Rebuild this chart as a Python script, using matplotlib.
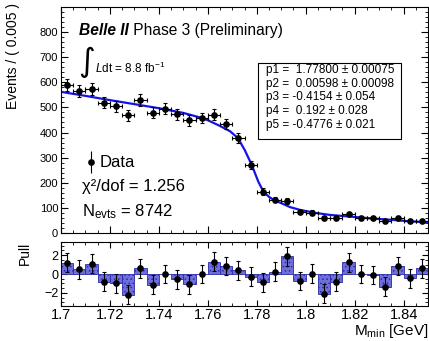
import numpy as np
import matplotlib
matplotlib.use("Agg")
from matplotlib import pyplot as plt
from matplotlib.ticker import MultipleLocator, FixedLocator
from matplotlib.patches import Rectangle

plt.rcParams['font.family'] = ['Liberation Sans', 'DejaVu Sans']
plt.rcParams['mathtext.fontset'] = 'custom'
plt.rcParams['mathtext.rm'] = 'Liberation Sans'
plt.rcParams['mathtext.it'] = 'Liberation Sans:italic'
plt.rcParams['hatch.linewidth'] = 0.6

# bin centres, 0.005 wide, 1.70 - 1.85
bin_width = 0.005
bin_centers = 1.7 + bin_width * (np.arange(30) + 0.5)

# events per bin
counts = [589, 567, 572, 519, 505, 469, 529, 479, 495, 473,
          449, 458, 471, 433, 379, 272, 165, 133, 128, 83,
          81, 58, 60, 76, 61, 58, 47, 60, 47, 49]

# fitted curve
fit_x = [1.7000, 1.7100, 1.7200, 1.7300, 1.7405, 1.7500, 1.7568, 1.7600,
         1.7650, 1.7691, 1.7723, 1.7751, 1.7779, 1.7806, 1.7827, 1.7850,
         1.7867, 1.7895, 1.7936, 1.7977, 1.8040, 1.8099, 1.8160, 1.8222,
         1.8280, 1.8344, 1.8420, 1.8500]
fit_y = [562, 546, 529, 513, 496, 478, 460, 449,
         426, 405, 378, 330, 272, 205, 165, 144,
         133, 121, 103, 92, 80, 72, 67, 62,
         57, 53, 47, 42]

# pulls per bin
pulls = [1.2, 0.5, 1.1, -0.8, -1.0, -2.2, 0.6, -1.15, 0.0, -0.55,
         -1.1, 0.0, 1.3, 0.85, 0.4, -0.3, -0.9, 0.25, 1.9, -0.75,
         0.05, -2.1, -0.8, 1.25, 0.0, -0.1, -1.35, 0.85, -0.45, 0.6]

params = ["p1 =  1.77800 \u00b1 0.00075",
          "p2 =  0.00598 \u00b1 0.00098",
          "p3 = -0.4154 \u00b1 0.054",
          "p4 =  0.192 \u00b1 0.028",
          "p5 = -0.4776 \u00b1 0.021"]

fig = plt.figure(figsize=(4.29, 3.41), dpi=100)
ax = fig.add_axes([0.142, 0.3167, 0.856, 0.663])
axp = fig.add_axes([0.142, 0.1026, 0.856, 0.1877])

# main panel
ax.plot(fit_x, fit_y, color='#1414e6', linewidth=1.6, zorder=2)
ax.errorbar(bin_centers, counts, yerr=np.sqrt(counts), xerr=bin_width / 2,
            fmt='o', color='black', markersize=3.8, elinewidth=0.8,
            capsize=1.2, capthick=0.8, zorder=3)
ax.set_xlim(1.7, 1.85)
ax.set_ylim(0, 900)
ax.yaxis.set_major_locator(FixedLocator(np.arange(0, 801, 100)))
ax.yaxis.set_minor_locator(MultipleLocator(20))
ax.xaxis.set_major_locator(MultipleLocator(0.02))
ax.xaxis.set_minor_locator(MultipleLocator(0.005))
ax.tick_params(which='both', direction='in', top=True, right=True, labelbottom=False,
               labelsize=8, pad=2)
ax.tick_params(which='major', length=5)
ax.tick_params(which='minor', length=2.5)

belle = ax.text(0.049, 0.894, "Belle II", transform=ax.transAxes, fontsize=11.2,
                fontweight='bold', fontstyle='italic', va='center', ha='left')
ax.annotate(" Phase 3 (Preliminary)", xy=(1, 0.5), xycoords=belle,
            fontsize=11.2, va='center', ha='left')
ax.text(0.046, 0.755, "\u222b", transform=ax.transAxes, fontsize=23,
        family='DejaVu Sans', va='center', ha='left')
ax.text(0.092, 0.73, r"$L$dt = 8.8 fb$^{-1}$", transform=ax.transAxes,
        fontsize=8.5, va='center', ha='left')

ax.errorbar([0.082], [0.314], yerr=[0.05], fmt='o', color='black', markersize=3.8,
            elinewidth=0.8, transform=ax.transAxes, clip_on=False)
ax.text(0.106, 0.314, "Data", transform=ax.transAxes, fontsize=12, va='center')
ax.text(0.057, 0.204, "\u03c7\u00b2/dof = 1.256", transform=ax.transAxes,
        fontsize=12, va='center')
ax.text(0.057, 0.093, r"N$_{\rm evts}$ = 8742", transform=ax.transAxes,
        fontsize=12, va='center')

ax.add_patch(Rectangle((0.537, 0.416), 0.389, 0.336, transform=ax.transAxes,
                       facecolor='white', edgecolor='black', linewidth=0.8, zorder=4))
for i, p in enumerate(params):
    ax.text(0.558, 0.721 - i * 0.0608, p, transform=ax.transAxes, fontsize=8.5,
            va='center', ha='left', zorder=5)

fig.text(0.03, 0.99, "Events / ( 0.005 )", rotation=90, ha='center', va='top',
         fontsize=10)

# pull panel
axp.bar(bin_centers, pulls, width=bin_width, facecolor='#6f6fdc', edgecolor='#2b2ba6',
        hatch='....', linewidth=0.6, zorder=2)
axp.errorbar(bin_centers, pulls, yerr=1.0, fmt='o', color='black', markersize=3.8,
             elinewidth=0.8, capsize=1.2, capthick=0.8, zorder=3)
axp.set_xlim(1.7, 1.85)
axp.set_ylim(-3.4, 3.4)
axp.yaxis.set_minor_locator(MultipleLocator(0.5))
axp.xaxis.set_minor_locator(MultipleLocator(0.005))
axp.set_xticks([1.7, 1.72, 1.74, 1.76, 1.78, 1.8, 1.82, 1.84])
axp.set_xticklabels(["1.7", "1.72", "1.74", "1.76", "1.78", "1.8", "1.82", "1.84"])
axp.set_yticks([-2, 0, 2])
axp.set_yticklabels(["\u22122", "0", "2"])
axp.tick_params(which='both', direction='in', top=True, right=True)
axp.tick_params(axis='x', labelsize=10.5, pad=1.5)
axp.tick_params(axis='y', labelsize=9, pad=2)
axp.tick_params(which='major', length=4)
axp.tick_params(which='minor', length=2)

fig.text(0.058, 0.258, "Pull", rotation=90, ha='center', va='center', fontsize=10)
fig.text(0.998, 0.028, r"M$_{\rm min}$ [GeV]", ha='right', va='center', fontsize=11)

fig.savefig("out.png", dpi=100)
